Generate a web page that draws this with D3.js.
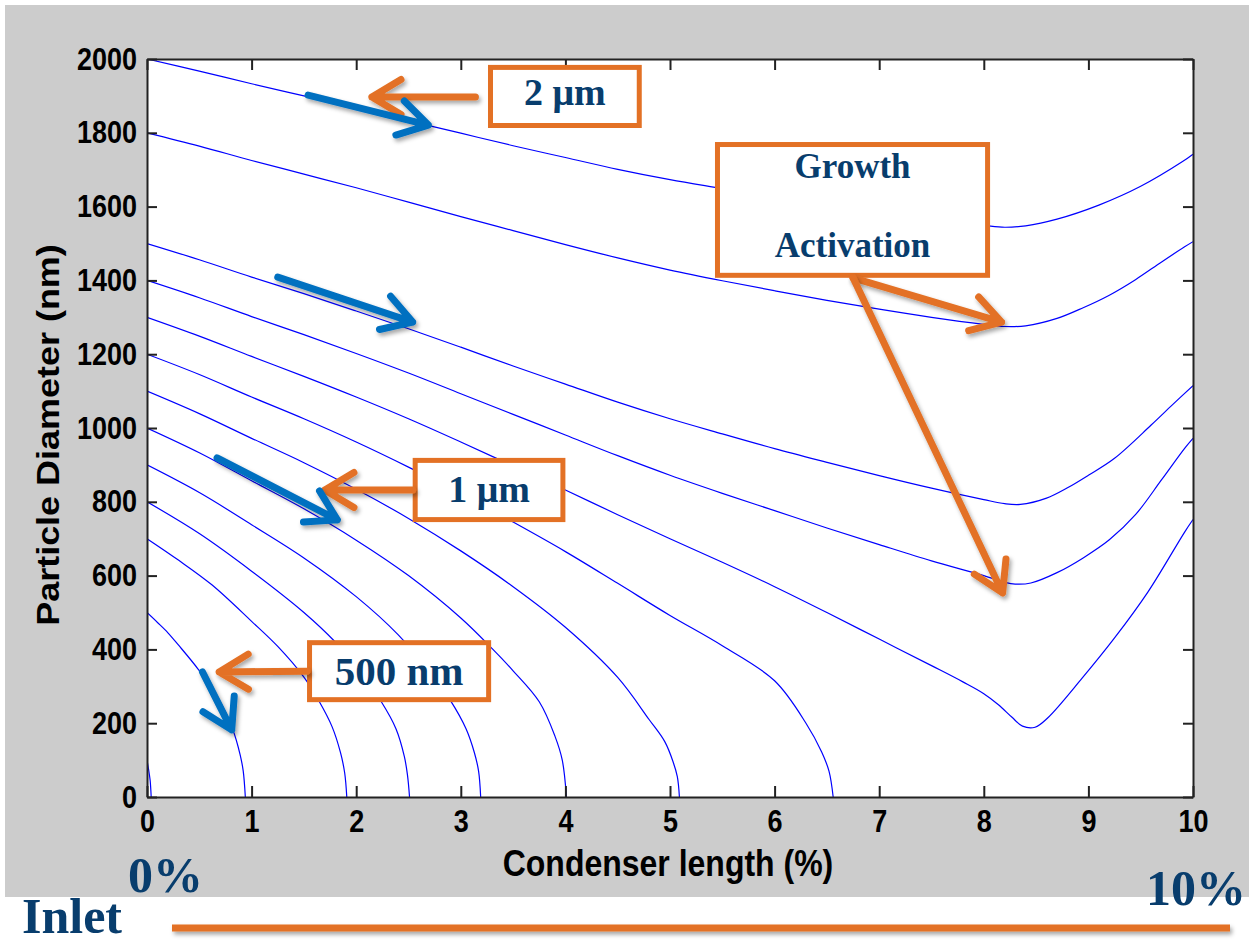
<!DOCTYPE html>
<html>
<head>
<meta charset="utf-8">
<script src="https://cdn.jsdelivr.net/npm/d3@7"></script>
<style>
    body { margin: 0; background: #ffffff; }
    svg { display: block; }
</style>
</head>
<body>
<svg id="chart"></svg>
<script>
// ticks
const xTicks = [0, 1, 2, 3, 4, 5, 6, 7, 8, 9, 10];
const yTicks = [0, 200, 400, 600, 800, 1000, 1200, 1400, 1600, 1800, 2000];

// particle diameter (nm) vs condenser length (%), one array per starting size
const curve2000 = [[0,2000],[0.5,1967],[1,1933],[1.5,1900],[2,1867],[2.5,1833],[3,1799],[3.5,1765],[4,1733],[4.5,1701],[5,1673],[5.5,1649],[6,1625],[6.5,1604],[7,1584],[7.5,1565],[8,1549],[8.2,1544],[8.4,1548],[8.7,1566],[9.1,1604],[9.5,1655],[9.9,1722],[10,1742]];
const curve1800 = [[0,1800],[0.5,1764],[1,1725],[1.5,1688],[2,1651],[2.5,1612],[3,1573],[3.5,1535],[4,1497],[4.5,1461],[5,1428],[5.5,1399],[6,1372],[6.5,1346],[7,1322],[7.5,1300],[8,1281],[8.2,1275],[8.4,1277],[8.7,1297],[8.95,1326],[9.2,1360],[9.45,1402],[9.7,1450],[9.92,1491],[10,1505]];
const curve1500 = [[0,1500],[0.5,1456],[1,1409],[1.5,1364],[2,1317],[2.5,1269],[3,1219],[3.5,1168],[4,1119],[4.5,1070],[5,1025],[5.5,984],[6,944],[6.5,907],[7,871],[7.5,837],[8,806],[8.2,795],[8.35,793],[8.6,810],[8.8,838],[9,872],[9.25,918],[9.6,1008],[9.8,1062],[10,1115]];
const curve1400 = [[0,1400],[0.5,1353],[1,1302],[1.5,1253],[2,1202],[2.5,1149],[3,1093],[3.5,1037],[4,981],[4.5,925],[5,872],[5.5,823],[6,776],[6.5,729],[7,684],[7.5,640],[8,600],[8.2,582],[8.3,577],[8.45,580],[8.7,608],[8.95,648],[9.2,697],[9.45,765],[9.7,860],[9.92,945],[10,972]];
const curve1300 = [[0,1300],[0.5,1249],[1,1194],[1.5,1140],[2,1084],[2.5,1025],[3,962],[3.5,897],[4,832],[4.5,765],[5,700],[5.5,636],[6,570],[6.5,500],[7,428],[7.5,356],[7.8,312],[8,280],[8.14,250],[8.27,216],[8.37,192],[8.49,189],[8.61,214],[8.94,322],[9.25,431],[9.57,556],[9.92,718],[10,752]];
const curve1200 = [[0,1200],[0.5,1145],[1,1084],[1.5,1025],[2,962],[2.5,894],[3,822],[3.5,745],[4,665],[4.5,579],[5,492],[5.5,410],[6,315],[6.3,200],[6.45,122],[6.52,70],[6.56,0]];
const curve1100 = [[0,1100],[0.5,1039],[1,972],[1.5,906],[2,834],[2.5,755],[3,667],[3.5,570],[4,460],[4.5,324],[4.8,210],[4.95,150],[5.03,95],[5.07,55],[5.09,0]];
const curve1000 = [[0,1000],[0.5,933],[1,857],[1.5,781],[2,696],[2.5,600],[3,485],[3.3,402],[3.5,342],[3.75,258],[3.9,165],[3.97,100],[4.01,0]];
const curve900 = [[0,900],[0.5,825],[1,738],[1.5,648],[2,543],[2.4,440],[2.7,340],[2.9,262],[3.05,185],[3.13,120],[3.17,70],[3.19,0]];
const curve800 = [[0,800],[0.5,714],[1,612],[1.5,500],[1.8,420],[2,354],[2.24,258],[2.38,185],[2.46,110],[2.49,60],[2.51,0]];
const curve700 = [[0,700],[0.3,642],[0.62,575],[1,476],[1.25,408],[1.5,325],[1.64,262],[1.77,190],[1.85,120],[1.89,65],[1.91,0]];
const curve500 = [[0,500],[0.1,473],[0.2,445],[0.3,412],[0.49,346],[0.68,268],[0.82,183],[0.89,115],[0.92,70],[0.94,0]];
const curve100 = [[0,100],[0.015,75],[0.03,45],[0.04,0]];

const curves = [curve2000, curve1800, curve1500, curve1400, curve1300, curve1200,
                curve1100, curve1000, curve900, curve800, curve700, curve500, curve100];

class CondenserChart {

    constructor( config, data ) {
        this.config = {
            parent: config.parent,
            width: config.width || 1249,
            height: config.height || 947,
            margin: config.margin || {top:59, right:56, bottom:150, left:147}
        }
        this.data = data
        this.init();
    }

    init() {
        let self = this;

        self.svg = d3.select( self.config.parent )
            .attr('width', self.config.width)
            .attr('height', self.config.height);

        self.inner_width = self.config.width - self.config.margin.left - self.config.margin.right;
        self.inner_height = self.config.height - self.config.margin.top - self.config.margin.bottom;

        // drop shadow used by the slide arrows
        const defs = self.svg.append('defs');
        defs.append('filter')
            .attr('id', 'shadow')
            .attr('filterUnits', 'userSpaceOnUse')
            .attr('x', 0).attr('y', 0)
            .attr('width', self.config.width).attr('height', self.config.height)
            .append('feDropShadow')
            .attr('dx', 2).attr('dy', 3).attr('stdDeviation', 2)
            .attr('flood-color', '#000').attr('flood-opacity', 0.35);
        defs.append('clipPath')
            .attr('id', 'plot-clip')
            .append('rect')
            .attr('width', self.inner_width)
            .attr('height', self.inner_height);

        // grey figure background
        self.svg.append('rect')
            .attr('x', 5).attr('y', 5)
            .attr('width', self.config.width - 5)
            .attr('height', 892)
            .attr('fill', '#cccccc');

        self.chart = self.svg.append('g')
            .attr('transform', `translate(${self.config.margin.left}, ${self.config.margin.top})`);

        self.chart.append('rect')
            .attr('width', self.inner_width)
            .attr('height', self.inner_height)
            .attr('fill', '#ffffff');

        self.xscale = d3.scaleLinear()
            .domain( [0, 10] )
            .range( [0, self.inner_width] );

        self.yscale = d3.scaleLinear()
            .domain( [0, 2000] )
            .range( [self.inner_height, 0] );

        self.line = d3.line()
            .x( d => self.xscale(d[0]) )
            .y( d => self.yscale(d[1]) )
            .curve( d3.curveCatmullRom.alpha(0.5) );

        self.render();
    }

    render() {
        let self = this;

        self.chart.append('g')
            .attr('clip-path', 'url(#plot-clip)')
            .selectAll('path')
            .data(self.data)
            .join('path')
            .attr('d', d => self.line(d))
            .attr('stroke', '#0000ff')
            .attr('stroke-width', 1.2)
            .attr('fill', 'none');

        // MATLAB style box with inward ticks on all sides
        const axisColor = '#222222';
        const xaxis = d3.axisBottom(self.xscale).tickValues(xTicks).tickFormat(d3.format('d'))
            .tickSizeInner(-11).tickSizeOuter(0).tickPadding(11);
        const yaxis = d3.axisLeft(self.yscale).tickValues(yTicks).tickFormat(d3.format('d'))
            .tickSizeInner(-10).tickSizeOuter(0).tickPadding(10);
        const xtop = d3.axisTop(self.xscale).tickValues(xTicks).tickSizeInner(-11).tickSizeOuter(0).tickFormat('');
        const yright = d3.axisRight(self.yscale).tickValues(yTicks).tickSizeInner(-10).tickSizeOuter(0).tickFormat('');

        const groups = [
            self.chart.append('g').attr('transform', `translate(0, ${self.inner_height})`).call(xaxis),
            self.chart.append('g').call(yaxis),
            self.chart.append('g').call(xtop),
            self.chart.append('g').attr('transform', `translate(${self.inner_width}, 0)`).call(yright)
        ];
        groups.forEach(g => {
            g.selectAll('path, line').attr('stroke', axisColor).attr('stroke-width', 2);
            g.selectAll('text')
                .attr('fill', '#000')
                .attr('font-family', '"Liberation Sans", Arial, sans-serif')
                .attr('font-weight', 'bold')
                .attr('font-size', 27)
                .attr('transform', 'scale(1,1.17)');
        });

        self.svg.append('text')
            .attr('transform', 'translate(668, 876) scale(1,1.16)')
            .attr('text-anchor', 'middle')
            .attr('font-family', '"Liberation Sans", Arial, sans-serif')
            .attr('font-weight', 'bold')
            .attr('font-size', 32)
            .text('Condenser length (%)');

        self.svg.append('text')
            .attr('transform', 'translate(59, 435) rotate(-90) scale(1.16,1)')
            .attr('text-anchor', 'middle')
            .attr('font-family', '"Liberation Sans", Arial, sans-serif')
            .attr('font-weight', 'bold')
            .attr('font-size', 31)
            .text('Particle Diameter (nm)');

        self.annotate();
    }

    annotate() {
        let self = this;
        const orange = '#e37125';
        const blue = '#0070c0';
        const navy = '#083d6d';
        const serif = '"Liberation Serif", "DejaVu Serif", serif';
        const xs = self.xscale, ys = self.yscale;
        const note = self.chart.append('g');

        // label boxes, corners in data units
        const boxes = [
            {lines: ['2 \u03bcm'], x0: 3.26, x1: 4.73, y0: 1984, y1: 1813, size: 38, base: [40]},
            {lines: ['Growth', 'Activation'], x0: 5.43, x1: 8.06, y0: 1775, y1: 1407, size: 35, base: [36, 115]},
            {lines: ['1 \u03bcm'], x0: 2.54, x1: 4.0, y0: 919, y1: 745, size: 38, base: [44]},
            {lines: ['500 nm'], x0: 1.53, x1: 3.29, y0: 425, y1: 257, size: 41, base: [45]}
        ];
        boxes.forEach(b => {
            const x = xs(b.x0), y = ys(b.y0);
            const w = xs(b.x1) - x, h = ys(b.y1) - y;
            note.append('rect')
                .attr('x', x + 2.5).attr('y', y + 2.5)
                .attr('width', w - 5).attr('height', h - 5)
                .attr('fill', '#ffffff')
                .attr('stroke', orange)
                .attr('stroke-width', 5);
            b.lines.forEach((t, i) => {
                note.append('text')
                    .attr('x', x + w / 2)
                    .attr('y', y + b.base[i])
                    .attr('text-anchor', 'middle')
                    .attr('font-family', serif)
                    .attr('font-weight', 'bold')
                    .attr('font-size', b.size)
                    .attr('fill', navy)
                    .text(t);
            });
        });

        // arrows, tail -> tip in data units
        const arrows = [
            {tail: [3.14, 1897], tip: [2.15, 1897], color: orange},
            {tail: [6.75, 1407], tip: [8.17, 1287], color: orange},
            {tail: [6.75, 1407], tip: [8.18, 553], color: orange},
            {tail: [2.54, 832], tip: [1.70, 832], color: orange},
            {tail: [1.53, 341], tip: [0.69, 339], color: orange},
            {tail: [1.54, 1902], tip: [2.69, 1821], color: blue},
            {tail: [1.25, 1409], tip: [2.54, 1287], color: blue},
            {tail: [0.67, 919], tip: [1.82, 751], color: blue},
            {tail: [0.53, 339], tip: [0.81, 182], color: blue}
        ];
        arrows.forEach(a => {
            const x1 = xs(a.tail[0]), y1 = ys(a.tail[1]);
            const x2 = xs(a.tip[0]), y2 = ys(a.tip[1]);
            const ang = Math.atan2(y2 - y1, x2 - x1);
            const len = 34, spread = Math.PI / 5.8;
            const p = d3.path();
            p.moveTo(x1, y1);
            p.lineTo(x2, y2);
            p.moveTo(x2 - len * Math.cos(ang - spread), y2 - len * Math.sin(ang - spread));
            p.lineTo(x2, y2);
            p.lineTo(x2 - len * Math.cos(ang + spread), y2 - len * Math.sin(ang + spread));
            note.append('path')
                .attr('d', p.toString())
                .attr('fill', 'none')
                .attr('stroke', a.color)
                .attr('stroke-width', 7)
                .attr('stroke-linecap', 'round')
                .attr('stroke-linejoin', 'round')
                .attr('filter', 'url(#shadow)');
        });

        // slide footer: inlet bar
        self.svg.append('rect')
            .attr('x', 172).attr('y', 924.5)
            .attr('width', 1058).attr('height', 7)
            .attr('fill', orange)
            .attr('filter', 'url(#shadow)');

        const footer = [
            {t: '0%', x: 128, y: 892, size: 50},
            {t: 'Inlet', x: 22, y: 933, size: 50},
            {t: '10%', x: 1146, y: 905, size: 50}
        ];
        self.svg.selectAll('text.footer')
            .data(footer)
            .join('text')
            .attr('class', 'footer')
            .attr('x', d => d.x)
            .attr('y', d => d.y)
            .attr('font-family', serif)
            .attr('font-weight', 'bold')
            .attr('font-size', d => d.size)
            .attr('fill', navy)
            .text(d => d.t);
    }
}

new CondenserChart({ parent: '#chart', width: 1249, height: 947 }, curves);
</script>
</body>
</html>
